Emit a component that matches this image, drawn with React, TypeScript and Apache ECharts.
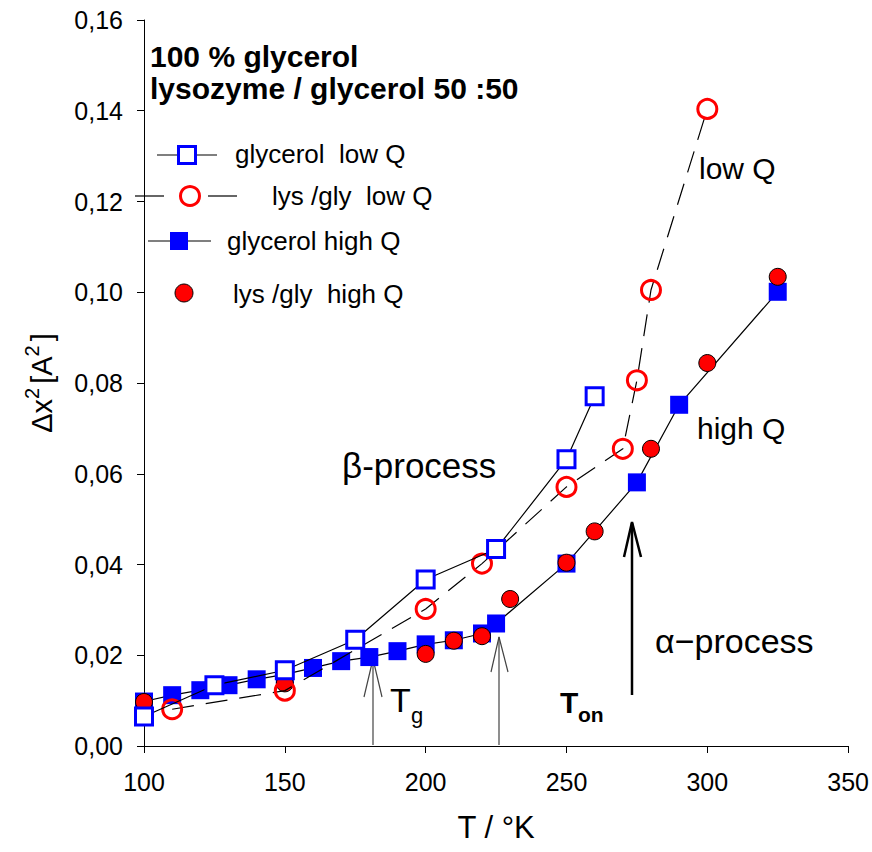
import React, { useEffect, useRef } from "react";
import * as echarts from "echarts";

const FONT = '"Liberation Sans", Arial, Helvetica, sans-serif';

// Tick labels
const xTickLabels = ["100", "150", "200", "250", "300", "350"];
const yTickLabels = ["0,00", "0,02", "0,04", "0,06", "0,08", "0,10", "0,12", "0,14", "0,16"];

// glycerol, low Q (open blue squares, solid line)
const glyLowT = [100, 125, 150, 175, 200, 225, 250, 260];
const glyLowDx = [0.0065, 0.0134, 0.0167, 0.0234, 0.0367, 0.0434, 0.0632, 0.0771];

// lysozyme / glycerol, low Q (open red circles, dashed line)
const lysLowT = [110, 150, 200, 220, 250, 270, 275, 280, 300];
const lysLowDx = [0.0081, 0.0122, 0.0302, 0.0402, 0.0571, 0.0655, 0.0806, 0.1005, 0.1404];

// glycerol, high Q (filled blue squares, solid line)
const glyHighT = [100, 110, 120, 130, 140, 150, 160, 170, 180, 190, 200, 210, 220, 225, 250, 275, 290, 325];
const glyHighDx = [0.0098, 0.0112, 0.0123, 0.0134, 0.0147, 0.0158, 0.0172, 0.0187, 0.0196, 0.0209, 0.0224, 0.0233, 0.0248, 0.027, 0.0402, 0.0581, 0.0752, 0.1001];

// lysozyme / glycerol, high Q (filled red circles)
const lysHighT = [100, 150, 200, 210, 220, 230, 250, 260, 280, 300, 325];
const lysHighDx = [0.0097, 0.0138, 0.0203, 0.0232, 0.0242, 0.0324, 0.0404, 0.0473, 0.0655, 0.0844, 0.1034];

const legendNames = ["glycerol\u00a0\u00a0low Q", "lys /gly\u00a0\u00a0low Q", "glycerol high Q", "lys /gly\u00a0\u00a0high Q"];

const pairs = (xs: number[], ys: number[]) => xs.map((x, i) => [x, ys[i]]);

function txt(text: string, x: number, y: number, size: number, weight = "normal", align = "left") {
  return {
    type: "text",
    x,
    y,
    silent: true,
    style: {
      text,
      fill: "#000",
      fontSize: size,
      fontFamily: FONT,
      fontWeight: weight,
      align,
      textAlign: align,
      verticalAlign: "middle",
      textVerticalAlign: "middle",
    },
  };
}

function seg(x1: number, y1: number, x2: number, y2: number, color = "#000", w = 1.2) {
  return { type: "line", silent: true, shape: { x1, y1, x2, y2 }, style: { stroke: color, lineWidth: w } };
}

function wings(pts: number[][], color = "#000", w = 1.2) {
  return { type: "polyline", silent: true, shape: { points: pts }, style: { stroke: color, lineWidth: w, fill: "none" } };
}

export default function App() {
  const ref = useRef<HTMLDivElement>(null);

  useEffect(() => {
    if (!ref.current) return;
    const chart = echarts.init(ref.current, undefined, { renderer: "svg" });

    const graphic: any[] = [
      // legend
      seg(157, 155, 217, 155),
      { type: "rect", silent: true, shape: { x: 187 - 8.5, y: 155 - 8.5, width: 17, height: 17 }, style: { fill: "#fff", stroke: "#0000ff", lineWidth: 3 } },
      txt(legendNames[0], 235, 154, 26),
      seg(135, 196, 164, 196),
      seg(208, 196, 237, 196),
      { type: "circle", silent: true, shape: { cx: 190, cy: 196, r: 9.5 }, style: { fill: "none", stroke: "#ff0000", lineWidth: 3 } },
      txt(legendNames[1], 272, 196, 26),
      seg(148, 241, 211, 241),
      { type: "rect", silent: true, shape: { x: 179 - 9, y: 241 - 9, width: 18, height: 18 }, style: { fill: "#0000ff" } },
      txt(legendNames[2], 227, 241, 26),
      { type: "circle", silent: true, shape: { cx: 184, cy: 293, r: 9 }, style: { fill: "#ff0000", stroke: "#000", lineWidth: 1 } },
      txt(legendNames[3], 233, 294, 26),
      // annotations
      txt("low Q", 699, 168, 30),
      txt("high Q", 697, 428, 30),
      txt("β-process", 342, 465, 35),
      txt("α−process", 655, 641, 34),
      txt("T", 390, 700, 34),
      txt("g", 411, 715, 22),
      txt("T", 560, 702, 30, "bold"),
      txt("on", 578, 714, 21, "bold"),
      // arrows
      seg(373, 745, 373, 659, "#444", 1.2),
      wings([[364, 697], [373, 659], [382, 697]], "#444", 1.2),
      seg(499, 745, 499, 637, "#444", 1.2),
      wings([[491, 672], [499, 637], [508, 672]], "#444", 1.2),
      seg(632, 695, 632, 523, "#000", 2.5),
      wings([[624, 557], [632, 522], [641, 557]], "#000", 2.5),
    ];

    const option: any = {
      animation: false,
      backgroundColor: "#fff",
      textStyle: { fontFamily: FONT },
      title: {
        text: "100 % glycerol\nlysozyme / glycerol 50 :50",
        left: 145,
        top: 35,
        textStyle: { fontFamily: FONT, fontSize: 30, fontWeight: "bold", color: "#000", lineHeight: 32 },
      },
      grid: { left: 144, right: 23, top: 20, bottom: 106 },
      xAxis: {
        type: "value",
        min: 100,
        max: 350,
        interval: 50,
        name: "T / °K",
        nameLocation: "middle",
        nameGap: 66,
        nameTextStyle: { fontFamily: FONT, fontSize: 31, color: "#000" },
        axisLine: { lineStyle: { color: "#000", width: 1 } },
        axisTick: { show: true, length: 7, lineStyle: { color: "#000", width: 1 } },
        axisLabel: {
          fontFamily: FONT,
          fontSize: 25,
          color: "#000",
          margin: 23,
          formatter: (_v: number, i: number) => xTickLabels[i] ?? "",
        },
        splitLine: { show: false },
      },
      yAxis: {
        type: "value",
        min: 0,
        max: 0.16,
        interval: 0.02,
        name: "{b|Δx}{s|2}{b|[A}{s|2}{b|]}",
        nameLocation: "middle",
        nameRotate: 90,
        nameGap: 88,
        nameTextStyle: {
          color: "#000",
          rich: {
            b: { fontFamily: FONT, fontSize: 29, color: "#000", lineHeight: 34, verticalAlign: "bottom" },
            s: { fontFamily: FONT, fontSize: 20, color: "#000", lineHeight: 34, verticalAlign: "top", padding: [0, 4, 0, 0] },
          },
        },
        axisLine: { show: true, lineStyle: { color: "#000", width: 1 } },
        axisTick: { show: true, length: 7, lineStyle: { color: "#000", width: 1 } },
        axisLabel: {
          fontFamily: FONT,
          fontSize: 25,
          color: "#000",
          margin: 21,
          formatter: (_v: number, i: number) => yTickLabels[i] ?? "",
        },
        splitLine: { show: false },
      },
      series: [
        {
          name: legendNames[2],
          type: "line",
          data: pairs(glyHighT, glyHighDx),
          symbol: "rect",
          symbolSize: 18,
          showAllSymbol: true,
          lineStyle: { color: "#000", width: 1.2 },
          itemStyle: { color: "#0000ff", borderWidth: 0 },
          z: 2,
        },
        {
          name: legendNames[3],
          type: "scatter",
          data: pairs(lysHighT, lysHighDx),
          symbol: "circle",
          symbolSize: 17,
          itemStyle: { color: "#ff0000", borderColor: "#000", borderWidth: 1, opacity: 1 },
          z: 3,
        },
        {
          name: legendNames[1],
          type: "line",
          data: pairs(lysLowT, lysLowDx),
          symbol: "circle",
          symbolSize: 19,
          showAllSymbol: true,
          lineStyle: { color: "#000", width: 1.2, type: [22, 12] },
          itemStyle: { color: "rgba(0,0,0,0)", borderColor: "#ff0000", borderWidth: 3 },
          z: 4,
        },
        {
          name: legendNames[0],
          type: "line",
          data: pairs(glyLowT, glyLowDx),
          symbol: "rect",
          symbolSize: 17,
          showAllSymbol: true,
          lineStyle: { color: "#000", width: 1.2 },
          itemStyle: { color: "#fff", borderColor: "#0000ff", borderWidth: 3 },
          z: 5,
        },
      ],
      graphic,
    };

    chart.setOption(option);
    return () => chart.dispose();
  }, []);

  return (
    <div
      ref={ref}
      style={{ position: "fixed", left: 0, top: 0, width: 872, height: 852, background: "#fff" }}
    />
  );
}
